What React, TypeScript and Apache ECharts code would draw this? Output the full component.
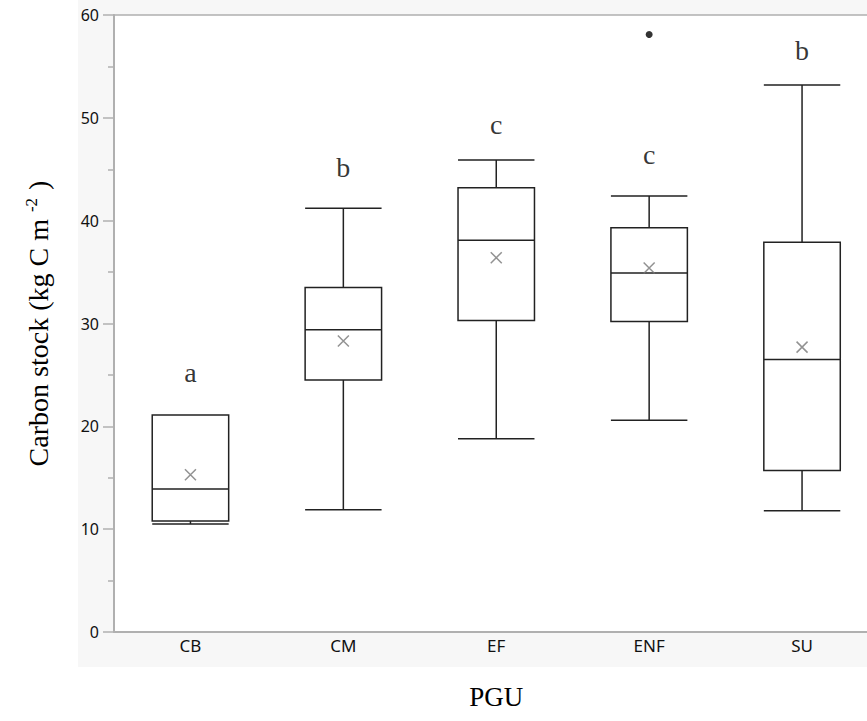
import React, { useEffect, useRef } from "react";
import * as echarts from "echarts";

const categories = ["CB", "CM", "EF", "ENF", "SU"];
// [min, Q1, median, Q3, max]
const boxValues = [
  [10.5, 10.8, 13.9, 21.1, 21.1],
  [11.9, 24.5, 29.4, 33.5, 41.2],
  [18.8, 30.3, 38.1, 43.2, 45.9],
  [20.6, 30.2, 34.9, 39.3, 42.4],
  [11.8, 15.7, 26.5, 37.9, 53.2],
];
const means = [15.3, 28.3, 36.4, 35.4, 27.7];
const outliers: [string, number][] = [["ENF", 58.1]];
const letters = ["a", "b", "c", "c", "b"];
const letterPos = [25.2, 45.2, 49.4, 46.4, 56.5];

export default function App() {
  const ref = useRef<HTMLDivElement>(null);
  useEffect(() => {
    document.body.style.margin = "0";
    const chart = echarts.init(ref.current!, null, { renderer: "svg" });
    chart.setOption({
      animation: false,
      graphic: [
        {
          type: "rect",
          z: -10,
          silent: true,
          shape: { x: 78, y: 0, width: 812, height: 667 },
          style: { fill: "#f7f7f7" },
        },
      ],
      grid: {
        left: 114,
        top: 15,
        bottom: 89,
        right: 11.5,
        show: true,
        backgroundColor: "#ffffff",
        borderColor: "#b0b0b0",
        borderWidth: 1.5,
      },
      xAxis: {
        type: "category",
        data: categories,
        boundaryGap: true,
        axisLine: { lineStyle: { color: "#b0b0b0", width: 2 } },
        axisTick: { show: false },
        axisLabel: { color: "#111", fontFamily: "Noto Sans", fontSize: 17, margin: 5 },
        name: "PGU",
        nameLocation: "middle",
        nameGap: 51,
        nameTextStyle: { fontFamily: "Liberation Serif", fontSize: 27, color: "#000" },
      },
      yAxis: {
        type: "value",
        min: 0,
        max: 60,
        interval: 10,
        axisLine: { show: true, lineStyle: { color: "#b0b0b0", width: 2 } },
        axisTick: { show: true, length: 11, lineStyle: { color: "#b0b0b0", width: 1.5 } },
        minorTick: { show: true, splitNumber: 2, length: 6, lineStyle: { color: "#b0b0b0", width: 1.5 } },
        splitLine: { show: false },
        axisLabel: { color: "#111", fontFamily: "Noto Sans", fontSize: 16, margin: 15 },
        name: "{a|Carbon stock (kg C m }{s|-2}{a|)}",
        nameLocation: "middle",
        nameRotate: 90,
        nameGap: 60,
        nameTextStyle: {
          rich: {
            a: { fontFamily: "Liberation Serif", fontSize: 28, color: "#000" },
            s: { fontFamily: "Liberation Serif", fontSize: 17, color: "#000", verticalAlign: "top", padding: [0, 8, 14, 0] },
          },
        },
      },
      series: [
        {
          type: "boxplot",
          data: boxValues,
          boxWidth: ["50%", "50%"],
          itemStyle: { color: "#ffffff", borderColor: "#222", borderWidth: 1.5 },
        },
        {
          type: "scatter",
          data: categories.map((c, i) => [c, means[i]]),
          symbol: "path://M0,0L10,10M10,0L0,10",
          symbolSize: 11,
          itemStyle: { color: "transparent", borderColor: "#777", borderWidth: 1.5 },
          z: 5,
        },
        {
          type: "scatter",
          data: outliers,
          symbol: "circle",
          symbolSize: 7,
          itemStyle: { color: "#000" },
          z: 5,
        },
        {
          type: "scatter",
          data: categories.map((c, i) => [c, letterPos[i]]),
          symbolSize: 0,
          label: {
            show: true,
            position: "inside",
            formatter: (p: any) => letters[p.dataIndex],
            fontFamily: "Liberation Serif",
            fontSize: 28,
            color: "#000",
          },
          z: 6,
        },
      ],
    });
    return () => chart.dispose();
  }, []);
  return (
    <div style={{ width: 867, height: 721, overflow: "hidden" }}>
      <div ref={ref} style={{ width: 890, height: 721 }} />
    </div>
  );
}
